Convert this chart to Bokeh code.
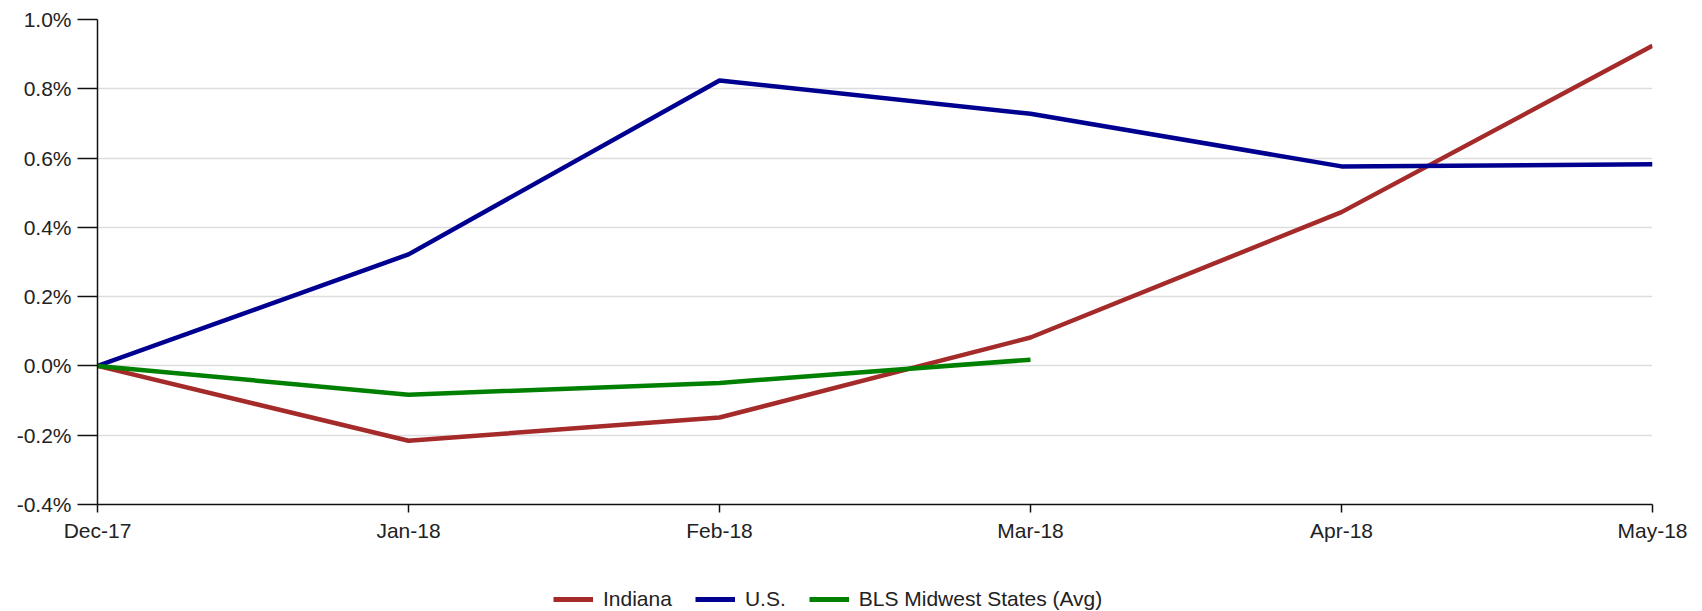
from bokeh.plotting import figure
from bokeh.layouts import column
from bokeh.models import FixedTicker, PrintfTickFormatter, Legend, LegendItem, Range1d
from bokeh.embed import file_html
from bokeh.resources import INLINE

months = ["Dec-17", "Jan-18", "Feb-18", "Mar-18", "Apr-18", "May-18"]
indiana = [0.0, -0.216, -0.149, 0.082, 0.444, 0.924]
us = [0.0, 0.322, 0.824, 0.728, 0.576, 0.582]
midwest = [0.0, -0.083, -0.049, 0.018]
y_ticks = [-0.4, -0.2, 0.0, 0.2, 0.4, 0.6, 0.8, 1.0]
series_names = ["Indiana", "U.S.", "BLS Midwest States (Avg)"]
series_colors = ["#A52A2A", "#000090", "#008000"]

FONT = "Liberation Sans"
FS = "21px"
TXT = "#222222"

W, H = 1694, 548
p = figure(width=W, height=H, output_backend="svg", toolbar_location=None,
           x_range=Range1d(0, len(months) - 1), y_range=Range1d(-0.4, 1.0),
           min_border_left=97, min_border_right=W - 1652, min_border_top=19,
           min_border_bottom=H - 504)
p.outline_line_color = None
p.background_fill_color = "white"
p.border_fill_color = "white"

x_all = list(range(len(months)))
p.line(x_all, indiana, line_color=series_colors[0], line_width=4.5, line_join="round")
p.line(x_all, us, line_color=series_colors[1], line_width=4.5, line_join="round")
p.line(x_all[:len(midwest)], midwest, line_color=series_colors[2], line_width=4.5, line_join="round")

# axes
p.xaxis.ticker = FixedTicker(ticks=x_all)
p.xaxis.major_label_overrides = {i: m for i, m in enumerate(months)}
p.yaxis.ticker = FixedTicker(ticks=y_ticks)
p.yaxis.formatter = PrintfTickFormatter(format="%.1f%%")
for ax in (p.xaxis[0], p.yaxis[0]):
    ax.axis_line_color = "#111111"
    ax.axis_line_width = 1.5
    ax.major_tick_line_color = "#111111"
    ax.major_tick_line_width = 1.5
    ax.minor_tick_line_color = None
    ax.major_tick_in = 0
    ax.major_label_text_font = FONT
    ax.major_label_text_font_size = FS
    ax.major_label_text_color = TXT
p.xaxis.major_tick_out = 8
p.xaxis.major_label_standoff = 6
p.yaxis.major_tick_out = 20
p.yaxis.major_label_standoff = 6

p.xgrid.grid_line_color = None
p.ygrid.ticker = FixedTicker(ticks=y_ticks)
p.ygrid.grid_line_color = "#dddddd"
p.ygrid.grid_line_width = 1.5

# legend strip below the chart (its frame is aligned with the chart's frame)
LH = 63
lf = figure(width=W, height=LH, output_backend="svg", toolbar_location=None,
            x_range=Range1d(0, 1), y_range=Range1d(0, 1),
            x_axis_type=None, y_axis_type=None,
            min_border_left=0, min_border_right=0, min_border_top=0, min_border_bottom=0)
lf.outline_line_color = None
lf.xgrid.grid_line_color = None
lf.ygrid.grid_line_color = None
items = []
for name, col in zip(series_names, series_colors):
    # off-range placeholder so the legend swatch has a line to draw
    r = lf.line([-5, -4], [-5, -5], line_color=col, line_width=5)
    items.append(LegendItem(label=name, renderers=[r]))
legend = Legend(items=items, orientation="horizontal", location=(456, 0),
                padding=0, margin=0, spacing=23, label_standoff=10,
                glyph_width=40, glyph_height=24,
                label_text_font=FONT, label_text_font_size=FS, label_text_color=TXT,
                border_line_color=None, background_fill_alpha=0)
lf.add_layout(legend, "center")

open("out.html", "w").write(file_html(column(p, lf, spacing=0), INLINE))
